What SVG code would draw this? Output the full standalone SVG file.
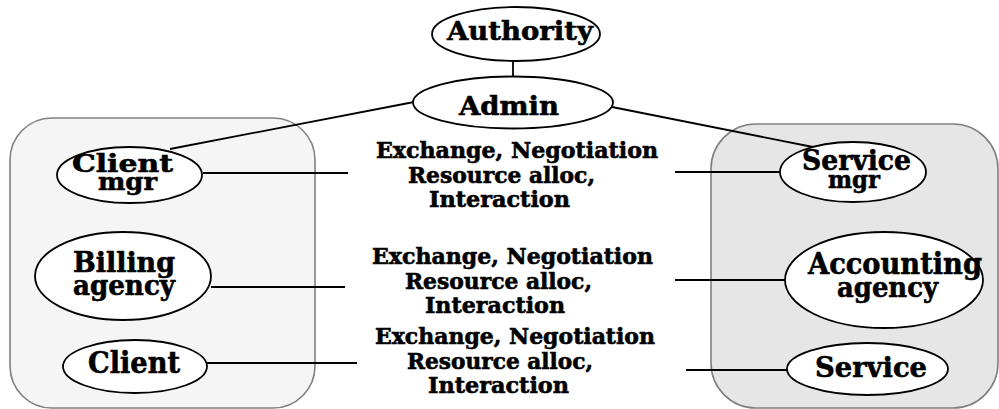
<svg xmlns="http://www.w3.org/2000/svg" width="999" height="409" viewBox="0 0 999 409">
<style>
.box{stroke:#808080;stroke-width:1.6}
.node{fill:#fff;stroke:#000;stroke-width:1.8}
.edge{stroke:#000;stroke-width:1.8;fill:none}
text{font-family:"DejaVu Serif","Liberation Serif",serif;font-weight:bold;fill:#000;stroke:#000;stroke-width:0.6}
.lbl{font-size:22px}
</style>
<g id="client-domain"><rect class="box" x="10" y="118" width="305" height="290" rx="42" fill="#f5f5f5"/></g>
<g id="service-domain"><rect class="box" x="711" y="124" width="287" height="284" rx="45" fill="#e6e6e6"/></g>
<g id="connectors">
<line class="edge" x1="513" y1="60" x2="513" y2="77"/>
<line class="edge" x1="414" y1="102" x2="170" y2="149"/>
<line class="edge" x1="612" y1="107" x2="813" y2="147"/>
<line class="edge" x1="203" y1="173" x2="348" y2="173"/>
<line class="edge" x1="675" y1="172" x2="781" y2="172"/>
<line class="edge" x1="211" y1="287" x2="345" y2="287"/>
<line class="edge" x1="675" y1="280" x2="786" y2="280"/>
<line class="edge" x1="207" y1="363" x2="357" y2="363"/>
<line class="edge" x1="686" y1="370" x2="788" y2="370"/>
</g>
<g id="authority"><ellipse class="node" cx="516" cy="34" rx="84" ry="27"/><text x="447" y="39.5" font-size="26" textLength="146" lengthAdjust="spacingAndGlyphs">Authority</text></g>
<g id="admin"><ellipse class="node" cx="513" cy="102.5" rx="100" ry="26"/><text x="459" y="115" font-size="26" textLength="100" lengthAdjust="spacingAndGlyphs">Admin</text></g>
<g id="client-mgr"><ellipse class="node" cx="129.5" cy="175" rx="72.5" ry="28"/><text x="72" y="172" font-size="25" textLength="101" lengthAdjust="spacingAndGlyphs">Client</text><text x="98" y="190" font-size="25" textLength="59" lengthAdjust="spacingAndGlyphs">mgr</text></g>
<g id="service-mgr"><ellipse class="node" cx="853" cy="172" rx="73" ry="30"/><text x="802" y="170" font-size="27" textLength="109" lengthAdjust="spacingAndGlyphs">Service</text><text x="828" y="188" font-size="25" textLength="52" lengthAdjust="spacingAndGlyphs">mgr</text></g>
<g id="billing-agency"><ellipse class="node" cx="123" cy="276" rx="88" ry="44"/><text x="73" y="272" font-size="28" textLength="102" lengthAdjust="spacingAndGlyphs">Billing</text><text x="73" y="295" font-size="27" textLength="102" lengthAdjust="spacingAndGlyphs">agency</text></g>
<g id="client"><ellipse class="node" cx="135" cy="366.5" rx="72" ry="26.5"/><text x="88" y="373" font-size="29" textLength="92" lengthAdjust="spacingAndGlyphs">Client</text></g>
<g id="accounting-agency"><ellipse class="node" cx="884" cy="280" rx="99" ry="48"/><text x="808" y="274" font-size="29" textLength="174" lengthAdjust="spacingAndGlyphs">Accounting</text><text x="837" y="297" font-size="28" textLength="101" lengthAdjust="spacingAndGlyphs">agency</text></g>
<g id="service"><ellipse class="node" cx="867.5" cy="369" rx="80.5" ry="26"/><text x="815" y="377" font-size="28" textLength="112" lengthAdjust="spacingAndGlyphs">Service</text></g>
<g id="label-1" class="lbl">
<text x="376" y="158" textLength="282" lengthAdjust="spacingAndGlyphs">Exchange, Negotiation</text>
<text x="408" y="182.5" textLength="187" lengthAdjust="spacingAndGlyphs">Resource alloc,</text>
<text x="429" y="207" textLength="141" lengthAdjust="spacingAndGlyphs">Interaction</text>
</g>
<g id="label-2" class="lbl">
<text x="372" y="264" textLength="281" lengthAdjust="spacingAndGlyphs">Exchange, Negotiation</text>
<text x="405" y="289" textLength="187" lengthAdjust="spacingAndGlyphs">Resource alloc,</text>
<text x="425" y="313" textLength="140" lengthAdjust="spacingAndGlyphs">Interaction</text>
</g>
<g id="label-3" class="lbl">
<text x="375" y="344" textLength="280" lengthAdjust="spacingAndGlyphs">Exchange, Negotiation</text>
<text x="407" y="369" textLength="186" lengthAdjust="spacingAndGlyphs">Resource alloc,</text>
<text x="428" y="393" textLength="141" lengthAdjust="spacingAndGlyphs">Interaction</text>
</g>
</svg>
